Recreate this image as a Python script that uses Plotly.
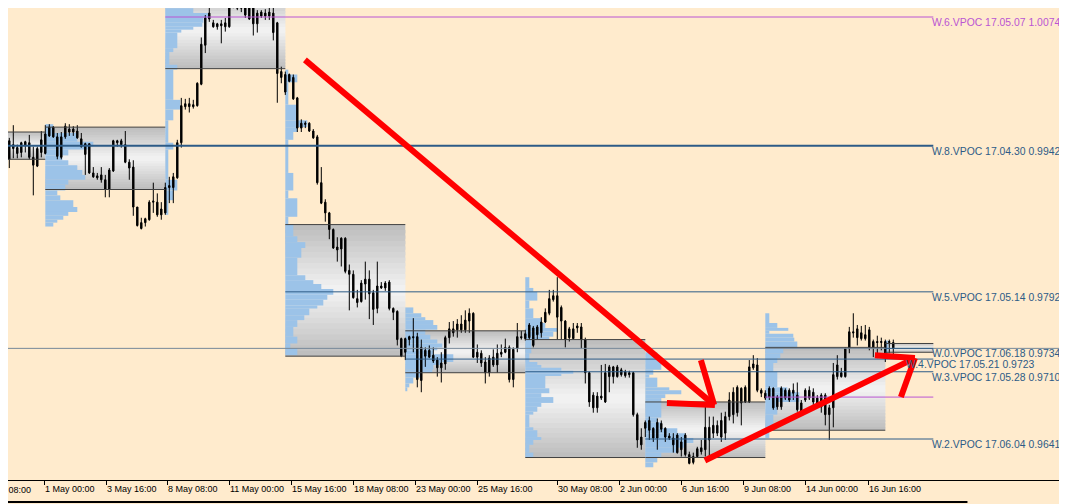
import plotly.graph_objects as go

# ---------------- H4 candles ----------------
open_ = [0.9938,0.9927,0.9947,0.9943,0.9934,0.9935,0.9946,0.9945,0.9922,0.9921,
         0.9935,0.9934,0.9952,0.9961,0.9951,0.9930,0.9951,0.9959,0.9956,0.9957,
         0.9949,0.9933,0.9944,0.9914,0.9911,0.9912,0.9907,0.9897,0.9916,0.9947,
         0.9947,0.9943,0.9925,0.9920,0.9879,0.9863,0.9863,0.9866,0.9884,0.9884,
         0.9877,0.9873,0.9899,0.9899,0.9909,0.9945,0.9982,0.9985,0.9982,0.9983,
         1.0005,1.0045,1.0072,1.0068,1.0064,1.0067,1.0064,1.0064,1.0088,1.0083,
         1.0083,1.0093,1.0072,1.0088,1.0067,1.0079,1.0075,1.0079,1.0078,1.0068,
         1.0018,0.9997,1.0015,1.0012,0.9991,0.9960,0.9965,0.9965,0.9957,0.9951,
         0.9904,0.9884,0.9873,0.9856,0.9838,0.9836,0.9847,0.9814,0.9810,0.9785,
         0.9782,0.9800,0.9805,0.9791,0.9775,0.9798,0.9796,0.9802,0.9775,0.9772,
         0.9744,0.9730,0.9743,0.9746,0.9746,0.9701,0.9732,0.9725,0.9727,0.9722,
         0.9714,0.9718,0.9745,0.9754,0.9753,0.9759,0.9753,0.9762,0.9770,0.9725,
         0.9729,0.9720,0.9709,0.9725,0.9717,0.9728,0.9730,0.9735,0.9702,0.9734,
         0.9746,0.9744,0.9745,0.9755,0.9748,0.9750,0.9761,0.9770,0.9784,0.9788,
         0.9776,0.9762,0.9745,0.9754,0.9755,0.9756,0.9743,0.9709,0.9686,0.9673,
         0.9685,0.9679,0.9715,0.9705,0.9715,0.9707,0.9710,0.9707,0.9709,0.9666,
         0.9643,0.9652,0.9650,0.9652,0.9642,0.9657,0.9652,0.9644,0.9642,0.9645,
         0.9630,0.9645,0.9625,0.9617,0.9623,0.9632,0.9630,0.9653,0.9647,0.9655,
         0.9643,0.9647,0.9664,0.9666,0.9668,0.9693,0.9679,0.9679,0.9714,0.9717,
         0.9691,0.9688,0.9684,0.9693,0.9674,0.9674,0.9691,0.9691,0.9688,0.9686,
         0.9678,0.9681,0.9691,0.9689,0.9683,0.9674,0.9686,0.9666,0.9673,0.9705,
         0.9709,0.9705,0.9734,0.9751,0.9754,0.9744,0.9748,0.9753,0.9735,0.9741,
         0.9740,0.9741,0.9740,0.9740]
high = [0.9941,0.9935,0.9950,0.9963,0.9943,0.9946,0.9947,0.9953,0.9941,0.9941,
        0.9957,0.9963,0.9964,0.9962,0.9955,0.9956,0.9965,0.9964,0.9962,0.9963,
        0.9955,0.9945,0.9944,0.9920,0.9914,0.9920,0.9912,0.9919,0.9948,0.9948,
        0.9949,0.9957,0.9928,0.9927,0.9879,0.9868,0.9868,0.9886,0.9904,0.9893,
        0.9884,0.9904,0.9910,0.9914,0.9948,0.9991,0.9990,0.9991,0.9989,1.0007,
        1.0053,1.0076,1.0089,1.0071,1.0068,1.0071,1.0073,1.0095,1.0094,1.0089,
        1.0096,1.0098,1.0097,1.0089,1.0081,1.0081,1.0082,1.0085,1.0084,1.0069,
        1.0023,1.0018,1.0016,1.0015,0.9992,0.9969,0.9967,0.9966,0.9959,0.9953,
        0.9920,0.9887,0.9874,0.9857,0.9848,0.9848,0.9848,0.9820,0.9814,0.9794,
        0.9804,0.9823,0.9814,0.9794,0.9823,0.9802,0.9803,0.9804,0.9776,0.9773,
        0.9745,0.9745,0.9747,0.9765,0.9750,0.9743,0.9735,0.9737,0.9735,0.9725,
        0.9730,0.9747,0.9761,0.9762,0.9764,0.9768,0.9773,0.9775,0.9771,0.9738,
        0.9732,0.9725,0.9727,0.9733,0.9738,0.9738,0.9744,0.9737,0.9735,0.9760,
        0.9752,0.9753,0.9760,0.9757,0.9758,0.9766,0.9775,0.9794,0.9794,0.9807,
        0.9778,0.9763,0.9756,0.9760,0.9760,0.9760,0.9745,0.9710,0.9689,0.9689,
        0.9717,0.9718,0.9717,0.9716,0.9717,0.9714,0.9712,0.9711,0.9710,0.9668,
        0.9652,0.9660,0.9664,0.9653,0.9662,0.9660,0.9653,0.9647,0.9647,0.9647,
        0.9643,0.9647,0.9628,0.9627,0.9633,0.9640,0.9674,0.9664,0.9664,0.9660,
        0.9668,0.9669,0.9689,0.9694,0.9696,0.9694,0.9696,0.9722,0.9727,0.9724,
        0.9693,0.9691,0.9695,0.9694,0.9686,0.9695,0.9693,0.9693,0.9698,0.9699,
        0.9681,0.9693,0.9695,0.9693,0.9686,0.9688,0.9688,0.9676,0.9719,0.9727,
        0.9714,0.9735,0.9756,0.9770,0.9758,0.9757,0.9758,0.9756,0.9743,0.9747,
        0.9745,0.9743,0.9743,0.9743]
low = [0.9923,0.9922,0.9919,0.9929,0.9929,0.9930,0.9935,0.9928,0.9891,0.9920,
       0.9930,0.9933,0.9951,0.9950,0.9928,0.9928,0.9949,0.9952,0.9952,0.9949,
       0.9940,0.9912,0.9913,0.9909,0.9907,0.9904,0.9889,0.9889,0.9915,0.9941,
       0.9940,0.9924,0.9907,0.9870,0.9859,0.9856,0.9859,0.9865,0.9873,0.9869,
       0.9866,0.9871,0.9883,0.9883,0.9908,0.9940,0.9979,0.9976,0.9980,0.9982,
       1.0004,1.0037,1.0069,1.0063,1.0061,1.0047,1.0059,1.0063,1.0083,1.0081,
       1.0079,1.0073,1.0071,1.0055,1.0058,1.0073,1.0071,1.0071,1.0050,0.9986,
       1.0006,0.9994,1.0007,0.9989,0.9956,0.9956,0.9960,0.9956,0.9949,0.9902,
       0.9882,0.9864,0.9846,0.9836,0.9823,0.9818,0.9811,0.9773,0.9785,0.9776,
       0.9781,0.9784,0.9764,0.9758,0.9770,0.9795,0.9793,0.9773,0.9763,0.9737,
       0.9725,0.9722,0.9737,0.9730,0.9694,0.9689,0.9715,0.9724,0.9719,0.9705,
       0.9699,0.9712,0.9739,0.9746,0.9745,0.9750,0.9750,0.9750,0.9724,0.9719,
       0.9715,0.9698,0.9705,0.9715,0.9709,0.9725,0.9729,0.9699,0.9694,0.9730,
       0.9743,0.9742,0.9743,0.9735,0.9743,0.9745,0.9760,0.9768,0.9782,0.9743,
       0.9743,0.9735,0.9741,0.9743,0.9750,0.9734,0.9698,0.9674,0.9668,0.9668,
       0.9681,0.9678,0.9689,0.9698,0.9704,0.9705,0.9704,0.9704,0.9664,0.9632,
       0.9630,0.9643,0.9640,0.9638,0.9630,0.9648,0.9638,0.9640,0.9627,0.9626,
       0.9623,0.9623,0.9615,0.9615,0.9622,0.9625,0.9623,0.9623,0.9642,0.9644,
       0.9638,0.9640,0.9660,0.9657,0.9664,0.9655,0.9678,0.9678,0.9712,0.9689,
       0.9684,0.9681,0.9681,0.9671,0.9671,0.9671,0.9681,0.9679,0.9681,0.9669,
       0.9666,0.9679,0.9681,0.9676,0.9673,0.9668,0.9655,0.9640,0.9653,0.9702,
       0.9704,0.9704,0.9729,0.9745,0.9737,0.9742,0.9742,0.9732,0.9725,0.9724,
       0.9732,0.9720,0.9729,0.9727]
close = [0.9932,0.9932,0.9928,0.9939,0.9940,0.9945,0.9942,0.9930,0.9930,0.9939,
         0.9948,0.9954,0.9961,0.9951,0.9931,0.9951,0.9962,0.9956,0.9959,0.9950,
         0.9941,0.9944,0.9914,0.9910,0.9909,0.9907,0.9897,0.9917,0.9947,0.9945,
         0.9943,0.9925,0.9919,0.9879,0.9860,0.9857,0.9867,0.9884,0.9885,0.9871,
         0.9871,0.9899,0.9901,0.9910,0.9945,0.9983,0.9985,0.9982,0.9984,1.0006,
         1.0046,1.0073,1.0078,1.0064,1.0067,1.0065,1.0068,1.0087,1.0084,1.0086,
         1.0089,1.0076,1.0092,1.0067,1.0078,1.0075,1.0078,1.0075,1.0058,1.0016,
         1.0012,1.0015,1.0008,0.9990,0.9960,0.9965,0.9964,0.9957,0.9950,0.9904,
         0.9883,0.9873,0.9856,0.9837,0.9835,0.9847,0.9813,0.9810,0.9786,0.9781,
         0.9801,0.9805,0.9790,0.9774,0.9798,0.9796,0.9801,0.9775,0.9771,0.9743,
         0.9726,0.9744,0.9746,0.9745,0.9702,0.9735,0.9726,0.9732,0.9721,0.9714,
         0.9719,0.9745,0.9754,0.9750,0.9759,0.9753,0.9763,0.9770,0.9725,0.9730,
         0.9719,0.9709,0.9724,0.9717,0.9729,0.9730,0.9735,0.9702,0.9733,0.9746,
         0.9745,0.9749,0.9758,0.9737,0.9756,0.9761,0.9771,0.9785,0.9788,0.9766,
         0.9762,0.9743,0.9754,0.9744,0.9757,0.9743,0.9709,0.9679,0.9673,0.9685,
         0.9683,0.9709,0.9705,0.9715,0.9705,0.9712,0.9706,0.9709,0.9666,0.9640,
         0.9635,0.9658,0.9660,0.9642,0.9658,0.9651,0.9643,0.9642,0.9635,0.9627,
         0.9638,0.9625,0.9616,0.9623,0.9631,0.9628,0.9653,0.9640,0.9655,0.9647,
         0.9660,0.9664,0.9681,0.9689,0.9694,0.9678,0.9694,0.9715,0.9718,0.9691,
         0.9688,0.9683,0.9693,0.9673,0.9684,0.9693,0.9683,0.9681,0.9691,0.9671,
         0.9668,0.9691,0.9683,0.9679,0.9676,0.9686,0.9666,0.9673,0.9707,0.9717,
         0.9705,0.9734,0.9751,0.9750,0.9745,0.9750,0.9744,0.9735,0.9741,0.9740,
         0.9741,0.9728,0.9741,0.9734]
bar_index = list(range(len(close)))

# ---------------- time axis labels ----------------
tick_pos = [10.68, 26.18, 41.43, 56.93, 72.43, 87.93, 103.43, 118.93,
            138.93, 154.43, 169.93, 185.43, 200.93, 216.68]
tick_text = ["1 May 00:00", "3 May 16:00", "8 May 08:00", "11 May 00:00",
             "15 May 16:00", "18 May 08:00", "23 May 00:00", "25 May 16:00",
             "30 May 08:00", "2 Jun 00:00", "6 Jun 16:00", "9 Jun 08:00",
             "14 Jun 00:00", "16 Jun 16:00"]
cut_label = "28 Apr 08:00"

# ---------------- weekly value areas ----------------
week_start = [-19, 11, 41, 71, 101, 131, 161, 191, 221]
week_end = [11, 41, 71, 101, 131, 161, 191, 221, 233]
va_high = [0.9956, 0.9961, 1.0100, 0.9861, 0.9752, 0.9743, 0.9679, 0.9735, 0.9739]
va_low = [0.9928, 0.9897, 1.0021, 0.9726, 0.9709, 0.9622, 0.9622, 0.9650, 0.9730]

# ---------------- weekly volume profiles (price bin edges, volume) ----------------
prof_B_edges = [0.9964, 0.9955, 0.9946, 0.9941, 0.9938, 0.9932, 0.9927, 0.9922, 0.9917, 0.9912,
                0.9907, 0.9902, 0.9896, 0.9891, 0.9886, 0.9879, 0.9874, 0.9870, 0.9866, 0.9863, 0.9859]
prof_B_vol = [8, 32, 48, 43, 23, 17, 23, 32, 37, 40, 23, 20, 12, 15, 28, 32, 23, 18, 12, 8]
prof_C_edges = [1.0100, 1.0088, 1.0083, 1.0078, 1.0073, 1.0068, 1.0064, 1.0061, 1.0058, 1.0042, 1.0038,
                1.0025, 1.0020, 0.9989, 0.9979, 0.9968, 0.9945, 0.9938, 0.9907, 0.9896, 0.9886, 0.9871]
prof_C_vol = [23, 24, 28, 43, 38, 37, 28, 16, 12, 8, 4, 12, 8, 15, 8, 3, 8, 3, 12, 8, 3]
prof_D_edges = [1.0020, 1.0015, 1.0007, 0.9984, 0.9968, 0.9961, 0.9956, 0.9948, 0.9914, 0.9896, 0.9888,
                0.9869, 0.9861, 0.9849, 0.9843, 0.9837, 0.9827, 0.9809, 0.9804, 0.9800, 0.9795, 0.9789,
                0.9784, 0.9778, 0.9775, 0.9768, 0.9763, 0.9756, 0.9746, 0.9739, 0.9734, 0.9727]
prof_D_vol = [3, 12, 3, 12, 22, 12, 8, 3, 8, 3, 12, 3, 8, 12, 20, 16, 12, 20, 28, 36, 48, 42, 38, 32,
              24, 19, 12, 8, 12, 5, 12]
prof_E_edges = [0.9776, 0.9770, 0.9766, 0.9763, 0.9758, 0.9753, 0.9748, 0.9743, 0.9739, 0.9735, 0.9732,
                0.9728, 0.9720, 0.9717, 0.9712, 0.9709, 0.9704, 0.9698, 0.9694, 0.9690]
prof_E_vol = [8, 16, 20, 28, 32, 20, 25, 32, 37, 32, 28, 48, 37, 28, 27, 16, 8, 4, 2]
prof_F_edges = [0.9807, 0.9796, 0.9792, 0.9783, 0.9775, 0.9765, 0.9760, 0.9755, 0.9751, 0.9746, 0.9743,
                0.9729, 0.9720, 0.9717, 0.9714, 0.9711, 0.9708, 0.9706, 0.9693, 0.9688, 0.9684, 0.9678,
                0.9674, 0.9669, 0.9666, 0.9653, 0.9650, 0.9643, 0.9640, 0.9635, 0.9627, 0.9622]
prof_F_vol = [4, 8, 12, 4, 8, 16, 20, 32, 28, 24, 6, 4, 12, 16, 36, 48, 36, 20, 24, 16, 28, 16, 12, 8,
              4, 8, 12, 16, 8, 4, 8]
prof_G_edges = [0.9730, 0.9724, 0.9712, 0.9707, 0.9704, 0.9694, 0.9691, 0.9687, 0.9683, 0.9679, 0.9663,
                0.9658, 0.9652, 0.9647, 0.9642, 0.9637, 0.9632, 0.9627, 0.9622, 0.9617, 0.9612]
prof_G_vol = [12, 16, 8, 4, 12, 24, 36, 20, 16, 16, 12, 16, 32, 40, 48, 40, 32, 16, 12, 8]
prof_H_edges = [0.9770, 0.9760, 0.9755, 0.9752, 0.9749, 0.9745, 0.9741, 0.9734, 0.9729, 0.9724, 0.9719,
                0.9710, 0.9694, 0.9689, 0.9679, 0.9666, 0.9650, 0.9642]
prof_H_vol = [4, 12, 23, 4, 28, 29, 32, 18, 15, 12, 8, 12, 22, 34, 12, 8, 4]
prof_I_edges = [0.9742, 0.9724]
prof_I_vol = [3]
profiles = [(11, prof_B_edges, prof_B_vol), (41, prof_C_edges, prof_C_vol),
            (71, prof_D_edges, prof_D_vol), (101, prof_E_edges, prof_E_vol),
            (131, prof_F_edges, prof_F_vol), (161, prof_G_edges, prof_G_vol),
            (191, prof_H_edges, prof_H_vol), (221, prof_I_edges, prof_I_vol)]

# ---------------- VPOC levels ----------------
vpoc_label = ["W.6.VPOC 17.05.07 1.0074", "W.8.VPOC 17.04.30 0.9942", "W.5.VPOC 17.05.14 0.9792",
              "W.0.VPOC 17.06.18 0.9734", "W.4.VPOC 17.05.21 0.9723", "W.3.VPOC 17.05.28 0.9710",
              "W.2.VPOC 17.06.04 0.9641", ""]
vpoc_price = [1.0074, 0.9942, 0.9792, 0.9734, 0.9723, 0.9710, 0.9641, 0.9684]
vpoc_from = [41, -19, 71, 221, 101, 131, 161, 191]
vpoc_untested = [True, False, False, False, False, False, False, True]
vpoc_label_at = [233, 233, 233, 233, 226.4, 233, 233, 233]
line_end = 233

# ---------------- hand-drawn red arrows (bar, price) ----------------
arrow_segments = [
    ((75.9, 1.0030), (178.2, 0.9676)),
    ((174.9, 0.9722), (178.2, 0.9676)),
    ((166.4, 0.9678), (178.4, 0.9676)),
    ((175.9, 0.9619), (228.4, 0.9724)),
    ((218.4, 0.9727), (228.4, 0.9724)),
    ((228.4, 0.9724), (224.9, 0.9684)),
]

# ---------------- styling ----------------
BG = "#FFEBCD"
BLUE_LINE = "#2D5B87"
PURPLE = "#BA55D3"
HIST = "#9CC3E8"
BID = "#778899"
PROFILE_SCALE = 0.25      # bars per volume unit
# the page body adds an 8px offset; the visible window is compensated here
X_RANGE = [1.675, 266.425]
Y_RANGE = [0.959893, 1.008323]
PLOT_H = 472

fig = go.Figure()
shapes = []

# gradient value-area boxes (overlapping stripes avoid seams)
N = 24
for ws, we, hi, lo in zip(week_start, week_end, va_high, va_low):
    h = (hi - lo) / N
    for i in range(N):
        t = (i + 0.5) / N
        g = int(188 + (244 - 188) * (1 - abs(2 * t - 1)))
        y_top = hi - i * h
        y_bot = max(lo, hi - (i + 1.6) * h)
        shapes.append(dict(type="rect", xref="x", yref="y", x0=ws, x1=we,
                           y0=y_top, y1=y_bot,
                           fillcolor=f"rgb({g},{g},{g})", line=dict(width=0), layer="below"))

# volume profiles
for start, edges, vol in profiles:
    mids = [(edges[i] + edges[i + 1]) / 2 for i in range(len(vol))]
    thick = [edges[i] - edges[i + 1] for i in range(len(vol))]
    fig.add_trace(go.Bar(orientation="h", y=mids, x=[v * PROFILE_SCALE for v in vol],
                         base=start, width=thick, marker=dict(color=HIST, line=dict(width=0)),
                         hoverinfo="skip", showlegend=False))

# box borders
bx, by = [], []
for ws, we, hi, lo in zip(week_start, week_end, va_high, va_low):
    bx += [ws, we, None, ws, we, None]
    by += [hi, hi, None, lo, lo, None]
fig.add_trace(go.Scatter(x=bx, y=by, mode="lines", line=dict(color="#404040", width=1),
                         hoverinfo="skip", showlegend=False))

# bid line
fig.add_trace(go.Scatter(x=[-1, 300], y=[close[-1], close[-1]], mode="lines",
                         line=dict(color=BID, width=1), hoverinfo="skip", showlegend=False))

# VPOC lines
for lab, p, x0, untested in zip(vpoc_label, vpoc_price, vpoc_from, vpoc_untested):
    col = PURPLE if untested else BLUE_LINE
    w = 2 if lab.startswith("W.8") else 1
    fig.add_trace(go.Scatter(x=[x0, line_end], y=[p, p], mode="lines",
                             line=dict(color=col, width=w), hoverinfo="skip", showlegend=False))

# candles
fig.add_trace(go.Candlestick(x=bar_index, open=open_, high=high, low=low, close=close,
                             increasing=dict(line=dict(color="black", width=1), fillcolor="black"),
                             decreasing=dict(line=dict(color="black", width=1), fillcolor="black"),
                             whiskerwidth=0, hoverinfo="skip", showlegend=False))

# red arrows
for (x0, y0), (x1, y1) in arrow_segments:
    shapes.append(dict(type="line", xref="x", yref="y", x0=x0, y0=y0, x1=x1, y1=y1,
                       line=dict(color="#FF0000", width=6), layer="above"))

# bottom frame line
shapes.append(dict(type="line", xref="paper", yref="paper", x0=0, x1=0.906,
                   y0=-22 / PLOT_H, y1=-22 / PLOT_H, line=dict(color="black", width=2), layer="above"))

annotations = []
for lab, p, lx, untested in zip(vpoc_label, vpoc_price, vpoc_label_at, vpoc_untested):
    if not lab:
        continue
    annotations.append(dict(x=lx, y=p, xref="x", yref="y", text=lab, showarrow=False,
                            xanchor="left", yanchor="top", yshift=2, xshift=-3,
                            font=dict(family="Liberation Sans, Arial",
                                      size=10.4, color=PURPLE if untested else BLUE_LINE)))
annotations.append(dict(x=7.9, y=-10 / PLOT_H, xref="x", yref="paper", text=cut_label, showarrow=False,
                        xanchor="right", yanchor="middle",
                        font=dict(family="Liberation Sans, Arial", size=9, color="black")))

fig.update_layout(
    width=1067, height=504,
    margin=dict(l=0, r=8, t=0, b=32, pad=0, autoexpand=False),
    paper_bgcolor=BG, plot_bgcolor=BG,
    barmode="overlay", boxgap=0.5,
    showlegend=False,
    shapes=shapes, annotations=annotations,
    xaxis=dict(range=X_RANGE, showgrid=False, zeroline=False, showline=True, linecolor="black",
               linewidth=1, ticks="outside", ticklen=4, tickcolor="black", tickwidth=1,
               tickvals=tick_pos, ticktext=tick_text, ticklabelposition="outside right",
               tickangle=0, automargin=False,
               tickfont=dict(family="Liberation Sans, Arial", size=9, color="black"),
               rangeslider=dict(visible=False), fixedrange=True),
    yaxis=dict(range=Y_RANGE, showgrid=False, zeroline=False, showticklabels=False,
               ticks="", showline=False, fixedrange=True, automargin=False),
)

fig.write_html("out.html")
